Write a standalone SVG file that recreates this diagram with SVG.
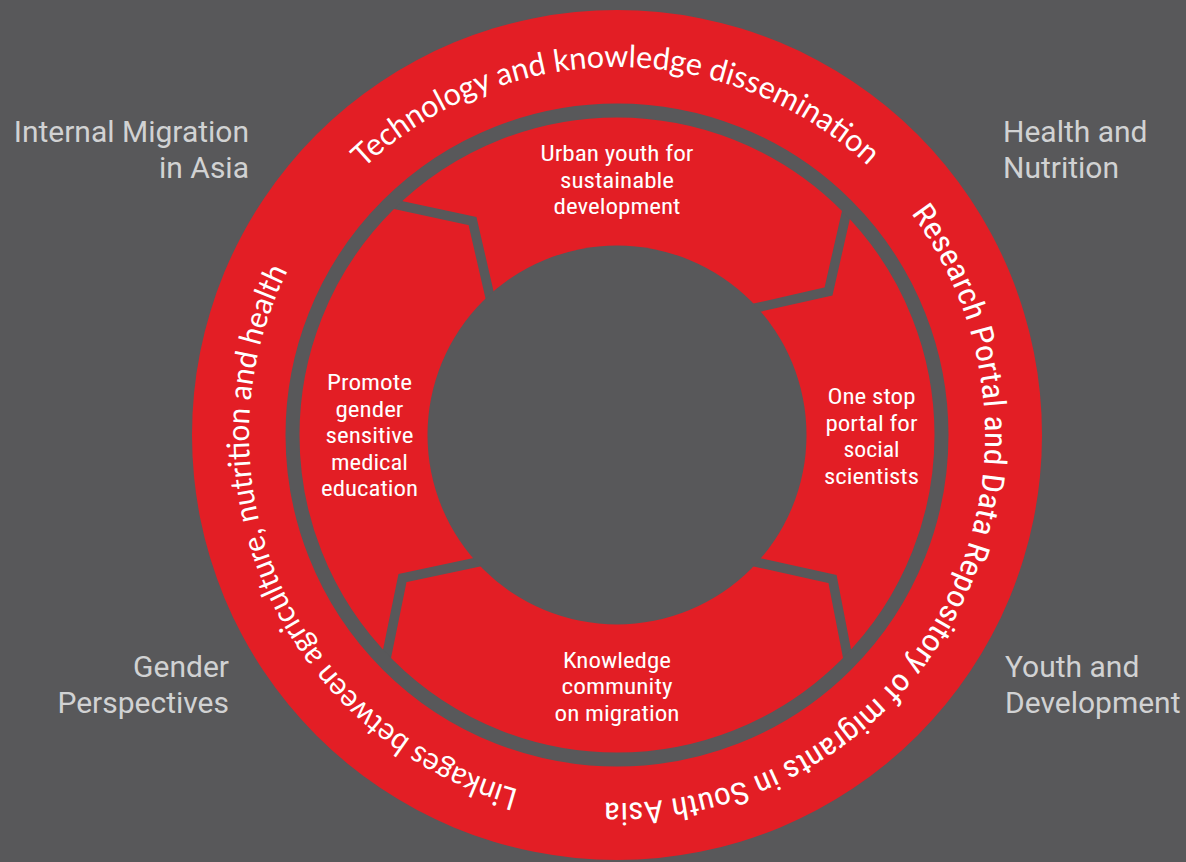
<svg xmlns="http://www.w3.org/2000/svg" width="1186" height="862" viewBox="0 0 1186 862">
<style>
.bg{fill:#58585a}
.gray{fill:#58585a}
.ringc{fill:none;stroke:#58585a;stroke-width:14}
.div{fill:none;stroke:#58585a;stroke-width:9.5;stroke-linejoin:miter;stroke-miterlimit:10}
.lbl{font-family:Roboto,"Liberation Sans",sans-serif;font-size:30px;fill:#d1d2d3}
.seg{font-family:"Roboto Condensed",Roboto,"Liberation Sans",sans-serif;font-size:22.5px;fill:#ffffff;text-anchor:middle}
.arc1{font-family:Lato,"Open Sans",sans-serif;font-size:31px;fill:#ffffff}
.arc2{font-family:"Roboto Condensed",Roboto,sans-serif;font-size:31px;fill:#ffffff}
</style>
<defs>
<path id="p1" d="M 363.7 168.1 A 368 368 0 0 1 935.7 251"/>
<path id="p2" d="M 910.9 213.5 A 368 368 0 0 1 491.1 780.8"/>
<path id="p3" d="M 518.7 789.6 A 368 368 0 0 1 356.8 174.8"/>
</defs>
<rect class="bg" x="0" y="0" width="1186" height="862"/>
<g id="outer-ring">
<circle cx="617" cy="435" r="425" fill="#e31e25"/>
</g>
<g id="connectors">
<polyline class="div" points="389.2,203.2 472.5,221 492,305.5"/>
<polyline class="div" points="847.9,206.3 828.5,291.5 746.5,310"/>
<polyline class="div" points="746.5,560 832.5,579 848.8,662.8"/>
<polyline class="div" points="487.5,560 402.5,578 385.2,662.8"/>
<circle class="ringc" cx="617" cy="435" r="324.5"/>
</g>
<g id="center">
<circle class="gray" cx="617" cy="435" r="189.5"/>
</g>
<g id="arc-technology">
<text class="arc1"><textPath href="#p1" textLength="555.6" lengthAdjust="spacingAndGlyphs">Technology and knowledge dissemination</textPath></text>
</g>
<g id="arc-research">
<text class="arc2"><textPath href="#p2" textLength="828.5" lengthAdjust="spacingAndGlyphs">Research Portal and Data Repository of migrants in South Asia</textPath></text>
</g>
<g id="arc-linkages">
<text class="arc1"><textPath href="#p3" textLength="648.7" lengthAdjust="spacingAndGlyphs">Linkages between agriculture, nutrition and health</textPath></text>
</g>
<g id="seg-top">
<text class="seg" x="617" y="161" textLength="153" lengthAdjust="spacingAndGlyphs">Urban youth for</text>
<text class="seg" x="617" y="188" textLength="114" lengthAdjust="spacingAndGlyphs">sustainable</text>
<text class="seg" x="617" y="214" textLength="127" lengthAdjust="spacingAndGlyphs">development</text>
</g>
<g id="seg-left">
<text class="seg" x="369.5" y="390" textLength="85" lengthAdjust="spacingAndGlyphs">Promote</text>
<text class="seg" x="369.5" y="416.5" textLength="68" lengthAdjust="spacingAndGlyphs">gender</text>
<text class="seg" x="369.5" y="443" textLength="88" lengthAdjust="spacingAndGlyphs">sensitive</text>
<text class="seg" x="369.5" y="469.5" textLength="77" lengthAdjust="spacingAndGlyphs">medical</text>
<text class="seg" x="369.5" y="496" textLength="97" lengthAdjust="spacingAndGlyphs">education</text>
</g>
<g id="seg-right">
<text class="seg" x="871.5" y="404" textLength="88" lengthAdjust="spacingAndGlyphs">One stop</text>
<text class="seg" x="871.5" y="430.5" textLength="92" lengthAdjust="spacingAndGlyphs">portal for</text>
<text class="seg" x="871.5" y="457" textLength="56" lengthAdjust="spacingAndGlyphs">social</text>
<text class="seg" x="871.5" y="483.5" textLength="95" lengthAdjust="spacingAndGlyphs">scientists</text>
</g>
<g id="seg-bottom">
<text class="seg" x="617" y="667.5" textLength="108" lengthAdjust="spacingAndGlyphs">Knowledge</text>
<text class="seg" x="617" y="694" textLength="111" lengthAdjust="spacingAndGlyphs">community</text>
<text class="seg" x="617" y="720.5" textLength="125" lengthAdjust="spacingAndGlyphs">on migration</text>
</g>
<g id="label-internal-migration">
<text class="lbl" x="249" y="142" text-anchor="end">Internal Migration</text>
<text class="lbl" x="249" y="178" text-anchor="end">in Asia</text>
</g>
<g id="label-health">
<text class="lbl" x="1003" y="142">Health and</text>
<text class="lbl" x="1003" y="178">Nutrition</text>
</g>
<g id="label-gender">
<text class="lbl" x="229" y="677" text-anchor="end">Gender</text>
<text class="lbl" x="229" y="713" text-anchor="end">Perspectives</text>
</g>
<g id="label-youth">
<text class="lbl" x="1005" y="677">Youth and</text>
<text class="lbl" x="1005" y="713">Development</text>
</g>
</svg>
